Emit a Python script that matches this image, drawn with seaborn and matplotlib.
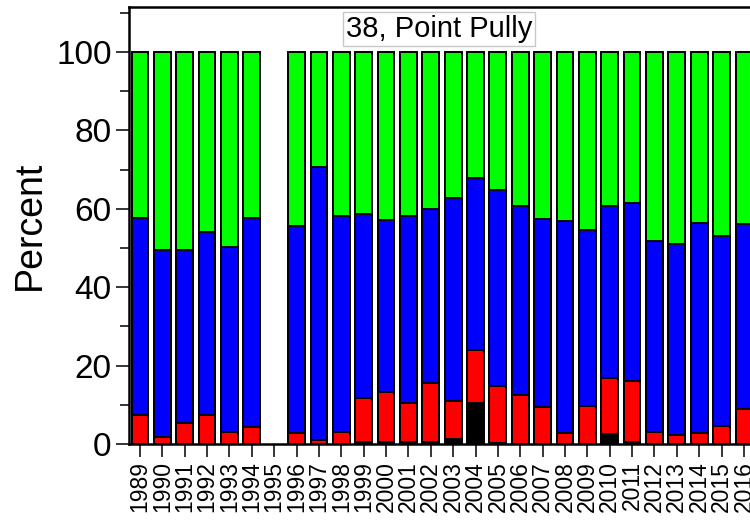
import numpy as np
import pandas as pd
import matplotlib
matplotlib.use("Agg")
import matplotlib.pyplot as plt
from matplotlib.ticker import MultipleLocator
import seaborn as sns

# station 38, Point Pully - percent composition per year (1995 missing)
years = [str(y) for y in range(1989, 2017)]
black_pct = [0, 0, 0, 0, 0, 0, np.nan, 0, 0, 0, 0.4, 0.4, 0.4, 0.4,
             1.3, 10.4, 0.3, 0, 0, 0, 0, 2.5, 0.4, 0, 0, 0, 0, 0]
red_top = [7.4, 1.9, 5.3, 7.4, 3.1, 4.4, np.nan, 2.9, 1.0, 3.1, 11.8, 13.3, 10.5, 15.5,
           11.0, 24.0, 14.8, 12.5, 9.4, 2.7, 9.7, 16.8, 16.2, 3.0, 2.3, 2.9, 4.7, 8.9]
blue_top = [57.6, 49.5, 49.5, 54.0, 50.2, 57.6, np.nan, 55.7, 70.6, 58.2, 58.6, 57.1, 58.2, 59.9,
            62.7, 67.8, 64.8, 60.7, 57.5, 57.0, 54.6, 60.7, 61.4, 51.9, 51.0, 56.3, 53.1, 56.1]
green_top = [100] * 6 + [np.nan] + [100] * 21

df = pd.DataFrame({
    "year": years,
    "green": green_top,
    "blue": blue_top,
    "red": red_top,
    "black": black_pct,
})

sns.set_style("ticks")
plt.rcParams["font.family"] = ["Liberation Sans", "DejaVu Sans"]
plt.rcParams.update({"text.color": "black", "axes.labelcolor": "black",
                     "xtick.color": "black", "ytick.color": "black"})

fig = plt.figure(figsize=(7.5, 5.21), dpi=100)
ax = fig.add_axes([0.172, 0.1478, 0.828, 0.8388])

# stacked bars drawn as overlapping cumulative layers, tallest first
layers = [("green", "#00ff00"), ("blue", "#0000ff"), ("red", "#ff0000"), ("black", "#000000")]
for col, colour in layers:
    sub = df[df[col] > 0]
    sns.barplot(data=sub, x="year", y=col, order=years, color=colour, saturation=1,
                width=0.75, edgecolor="black", linewidth=1.4, errorbar=None, ax=ax)

ax.set_xlim(-0.49, 27.27)
ax.set_ylim(0, 111.5)
ax.yaxis.set_major_locator(MultipleLocator(20))
ax.yaxis.set_minor_locator(MultipleLocator(10))

ax.tick_params(axis="y", which="major", direction="out", length=9.5, width=1.1,
               labelsize=24, pad=3)
ax.tick_params(axis="y", which="minor", direction="out", length=6.5, width=1.1)
ax.tick_params(axis="x", direction="out", length=9.5, width=1.1, labelsize=16.5,
               pad=3, labelrotation=90)

ax.set_xlabel("")
ax.set_ylabel("Percent", fontsize=27, labelpad=6)

for side in ["top", "left", "bottom"]:
    ax.spines[side].set_color("black")
    ax.spines[side].set_linewidth(1.8)
ax.spines["right"].set_visible(False)

fig.text(0.585, 0.944, "38, Point Pully", fontsize=21, ha="center", va="center",
         bbox=dict(boxstyle="square,pad=0.1", facecolor="white", edgecolor="#c8c8c8", linewidth=1))

fig.savefig("out.png", dpi=100)
